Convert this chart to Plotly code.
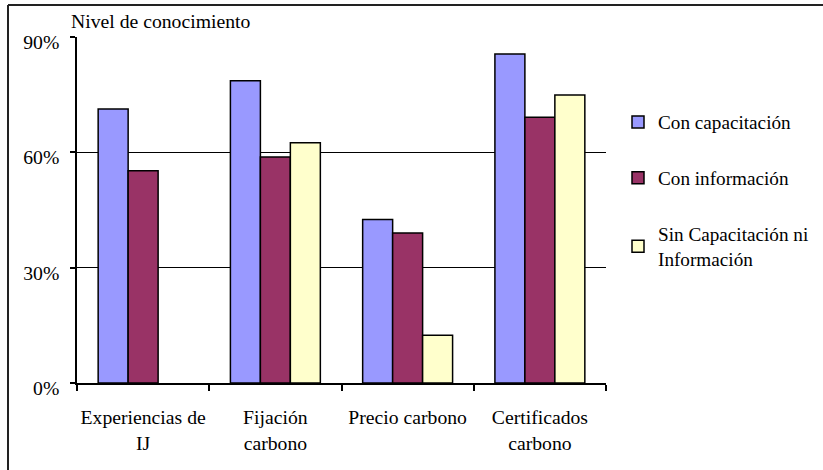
import plotly.graph_objects as go

categories = ["Experiencias de<br>IJ", "Fijación<br>carbono", "Precio carbono", "Certificados<br>carbono"]
series_names = ["Con capacitación", "Con información", "Sin Capacitación ni<br>Información"]
con_capacitacion = [71.3, 78.6, 42.5, 85.6]
con_informacion = [55.2, 58.8, 39.0, 69.1]
sin_capacitacion = [None, 62.5, 12.4, 74.9]
y_ticks = [0, 30, 60, 90]
y_tick_labels = ["0%", "30%", "60%", "90%"]

colors = ["#9999FF", "#993366", "#FFFFCC"]
values = [con_capacitacion, con_informacion, sin_capacitacion]

FONT = "'Liberation Serif', Tinos, 'Times New Roman', 'DejaVu Serif', serif"
FS = 19.7
W, H = 823, 470
L, R, T, B = 77, 217, 37, 86.5
pw, ph = W - L - R, H - T - B

def px_x(x):
    return (x - L) / pw

def px_y(y):
    return (H - B - y) / ph

fig = go.Figure()
for name, vals, col in zip(series_names, values, colors):
    fig.add_trace(go.Bar(
        x=categories, y=vals, name=name, legendgroup=name,
        marker=dict(color=col, line=dict(color="black", width=1.5)),
    ))

fig.update_layout(
    width=W, height=H,
    margin=dict(l=L, r=R, t=T, b=B, autoexpand=False),
    paper_bgcolor="white", plot_bgcolor="white",
    barmode="group", bargap=0.32, bargroupgap=0,
    font=dict(family=FONT, size=FS, color="black"),
    showlegend=True,
    legend=dict(
        x=px_x(618), y=px_y(103), xanchor="left", yanchor="top",
        font=dict(family=FONT, size=19.2, color="black"),
        tracegroupgap=28, itemwidth=30, bgcolor="rgba(0,0,0,0)",
    ),
    xaxis=dict(
        type="category", showline=True, linecolor="black", linewidth=1.5,
        ticks="outside", tickson="boundaries", ticklen=6, tickwidth=1.5, tickcolor="black",
        showgrid=False, tickfont=dict(family=FONT, size=FS, color="black"),
        range=[-0.5, 3.5], ticklabelstandoff=16, tickangle=0,
    ),
    yaxis=dict(
        range=[0, 90], tickmode="array", tickvals=y_ticks, ticktext=y_tick_labels,
        showline=True, linecolor="black", linewidth=1.5,
        ticks="outside", ticklen=5, tickwidth=1.5, tickcolor="black",
        showgrid=True, gridcolor="black", gridwidth=1.4,
        zeroline=False, ticklabelstandoff=7, ticklabelshift=5,
        tickfont=dict(family=FONT, size=FS, color="black"),
    ),
    annotations=[dict(
        text="Nivel de conocimiento", xref="paper", yref="paper",
        x=px_x(69), y=px_y(21), xanchor="left", yanchor="middle",
        showarrow=False, font=dict(family=FONT, size=FS, color="black"),
    )],
    shapes=[
        dict(type="line", xref="paper", yref="paper", x0=px_x(8), x1=px_x(830),
             y0=px_y(5), y1=px_y(5), line=dict(color="#222222", width=2)),
        dict(type="line", xref="paper", yref="paper", x0=px_x(8), x1=px_x(8),
             y0=px_y(5), y1=px_y(480), line=dict(color="#222222", width=2)),
    ],
)

fig.write_html("out.html", config={"displayModeBar": False},
               post_script="document.body.style.margin='0px';")
